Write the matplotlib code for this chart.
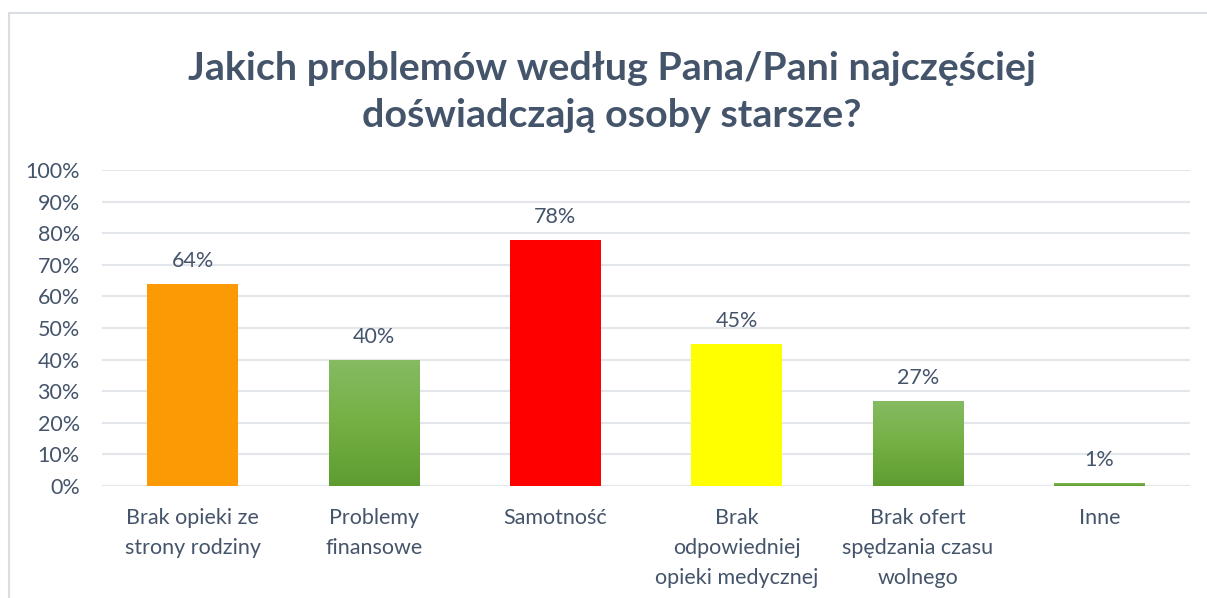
import matplotlib
matplotlib.use('Agg')
import matplotlib.pyplot as plt
import numpy as np
from matplotlib.lines import Line2D
from matplotlib.colors import LinearSegmentedColormap

# dane z wykresu
kategorie = ['Brak opieki ze\nstrony rodziny', 'Problemy\nfinansowe', 'Samotność',
             'Brak\nodpowiedniej\nopieki medycznej', 'Brak ofert\nspędzania czasu\nwolnego', 'Inne']
wartosci = [0.64, 0.40, 0.78, 0.45, 0.27, 0.01]
etykiety = ['64%', '40%', '78%', '45%', '27%', '1%']
kolory = ['#FB9A04', 'green', '#FF0000', '#FFFF00', 'green', 'green']
tytul = 'Jakich problemów według Pana/Pani najczęściej\ndoświadczają osoby starsze?'

plt.rcParams['font.family'] = ['Lato', 'DejaVu Sans']
tekst = '#44546A'
fs = 15.5

fig = plt.figure(figsize=(12.07, 5.98), dpi=100)
ax = fig.add_axes([102/1207, 1-486/598, (1190-102)/1207, (486-170)/598])

x = np.arange(len(kategorie))
zielony = LinearSegmentedColormap.from_list('g', ['#5E9C31', '#74B044', '#86BB63'])
grad = np.linspace(0, 1, 256).reshape(-1, 1)

bars = ax.bar(x, wartosci, width=0.5, color=[c if c != 'green' else '#70AD47' for c in kolory],
              zorder=3)
for b, c in zip(bars, kolory):
    if c == 'green':
        x0, w, h = b.get_x(), b.get_width(), b.get_height()
        im = ax.imshow(grad, cmap=zielony, origin='lower', aspect='auto',
                       extent=[x0, x0 + w, 0, h], zorder=4)
        im.set_clip_path(b)

for xi, v, e in zip(x, wartosci, etykiety):
    ax.annotate(e, (xi, v), xytext=(0, 9), textcoords='offset points',
                ha='center', va='bottom', fontsize=fs, color=tekst)

ax.set_xlim(-0.5, len(kategorie) - 0.5)
ax.set_ylim(0, 1)
ax.set_yticks(np.arange(0, 1.01, 0.1))
ax.set_yticklabels([f'{int(round(t*100))}%' for t in np.arange(0, 1.01, 0.1)])
ax.set_xticks(x)
ax.set_xticklabels(kategorie, linespacing=1.62)
ax.tick_params(axis='y', length=0, pad=16, labelsize=fs, labelcolor=tekst)
ax.tick_params(axis='x', length=0, pad=16, labelsize=fs, labelcolor=tekst)
ax.yaxis.grid(True, color='#E3E6EA', linewidth=1.5, zorder=0)
for s in ax.spines.values():
    s.set_visible(False)
ax.axhline(0, color='#E3E6EA', linewidth=1.5, zorder=1)

fig.text(612/1207, 1-92/598, tytul, ha='center', va='center', fontsize=28.4,
         fontweight='bold', color=tekst, linespacing=1.42)

# ramka wykresu
ramka = '#D9DEE4'
fig.add_artist(Line2D([9/1207, 1], [1-13/598, 1-13/598], color=ramka, lw=1.5))
fig.add_artist(Line2D([9/1207, 9/1207], [0, 1-13/598], color=ramka, lw=1.5))

fig.savefig('out.png', dpi=100)
